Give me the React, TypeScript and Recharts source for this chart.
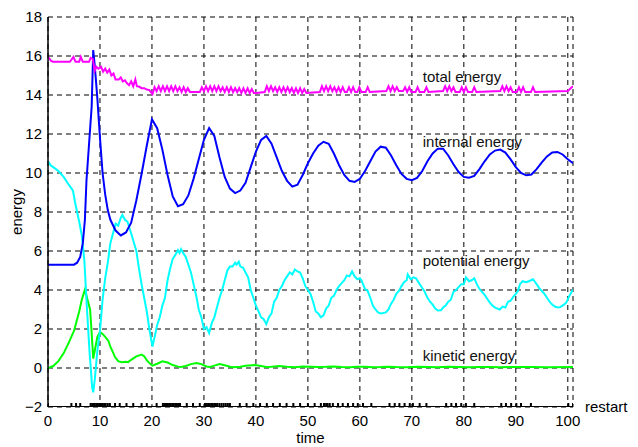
import React from "react";
import {
  ComposedChart,
  Line,
  Scatter,
  XAxis,
  YAxis,
  CartesianGrid,
  ReferenceDot,
  Label,
} from "recharts";

type Pt = [number, number];

const xTicks = [0, 10, 20, 30, 40, 50, 60, 70, 80, 90, 100];
const yTicks = [-2, 0, 2, 4, 6, 8, 10, 12, 14, 16, 18];

const totalEnergy: Pt[] = [
  [0, 15.95], [0.6, 15.75], [1, 15.7], [4.2, 15.7], [4.9, 15.95], [5.3, 15.7], [6.0, 15.7], [6.3, 15.95],
  [6.7, 15.7], [7.9, 15.7], [8.2, 15.9], [8.6, 15.85], [9.0, 15.25], [9.3, 15.45], [9.7, 15.35], [10.2, 15.45],
  [10.6, 15.2], [11, 15.35], [11.4, 15.15], [11.8, 15.3], [12.2, 15.0], [12.6, 15.1], [13, 14.8], [13.6, 14.8],
  [14, 14.9], [14.4, 14.7], [14.8, 14.75], [15.2, 14.6], [15.6, 14.5], [16, 14.7], [16.4, 14.45], [16.8, 14.8],
  [17.1, 14.45], [17.6, 14.42], [18, 14.35], [18.5, 14.35], [19, 14.28], [19.5, 14.25], [20.1, 14.05],
  [20.5, 14.4], [20.9, 14.2], [21.3, 14.45], [21.7, 14.2], [22.1, 14.45], [22.5, 14.2], [22.9, 14.45],
  [23.3, 14.2], [23.7, 14.45], [24.1, 14.2], [24.5, 14.45], [24.9, 14.2], [25.3, 14.4], [25.7, 14.15],
  [26.1, 14.4], [26.5, 14.15], [26.9, 14.35], [27.3, 14.15], [29.2, 14.15], [29.6, 14.4], [30, 14.2],
  [30.4, 14.45], [30.8, 14.2], [31.2, 14.45], [31.6, 14.2], [32, 14.45], [32.4, 14.2], [32.8, 14.45],
  [33.2, 14.2], [33.6, 14.4], [34, 14.15], [34.4, 14.4], [34.8, 14.15], [35.2, 14.4], [35.6, 14.15],
  [36, 14.35], [36.4, 14.15], [36.8, 14.35], [37.2, 14.1], [37.6, 14.35], [38, 14.1], [38.4, 14.35],
  [38.8, 14.1], [39.2, 14.3], [39.6, 14.1], [40.1, 14.1], [41.7, 14.15], [42.1, 14.45], [42.5, 14.2],
  [42.9, 14.45], [43.3, 14.2], [43.7, 14.4], [44.1, 14.15], [44.5, 14.4], [44.9, 14.15], [45.3, 14.4],
  [45.7, 14.15], [46.1, 14.4], [46.5, 14.15], [46.9, 14.35], [47.3, 14.1], [47.7, 14.35], [48.1, 14.1],
  [48.5, 14.35], [48.9, 14.1], [49.3, 14.3], [49.7, 14.1], [52.3, 14.15], [52.7, 14.45], [53.1, 14.2],
  [53.5, 14.45], [53.9, 14.2], [54.3, 14.45], [54.7, 14.2], [55.1, 14.4], [55.5, 14.15], [55.9, 14.4],
  [56.3, 14.15], [56.7, 14.4], [57.1, 14.15], [57.5, 14.15], [57.9, 14.4], [58.3, 14.15], [58.7, 14.4],
  [59.1, 14.15], [59.5, 14.15], [59.9, 14.4], [60.3, 14.15], [61.1, 14.15], [61.5, 14.4], [61.9, 14.15],
  [65.1, 14.2], [65.5, 14.45], [65.9, 14.2], [66.3, 14.45], [66.7, 14.2], [67.1, 14.4], [67.5, 14.2],
  [68.3, 14.2], [68.7, 14.4], [69.1, 14.15], [69.5, 14.4], [69.9, 14.15], [70.7, 14.15], [71.1, 14.4],
  [71.5, 14.15], [72.4, 14.15], [72.8, 14.4], [73.2, 14.15], [76, 14.2], [76.4, 14.45], [76.8, 14.2],
  [77.2, 14.45], [77.6, 14.2], [78, 14.4], [78.4, 14.15], [79.2, 14.15], [79.6, 14.4], [80, 14.15],
  [80.4, 14.4], [80.8, 14.15], [81.6, 14.15], [82, 14.4], [82.4, 14.15], [87, 14.2], [87.4, 14.45],
  [87.8, 14.2], [88.2, 14.45], [88.6, 14.2], [89, 14.4], [89.4, 14.15], [90.2, 14.15], [90.6, 14.4],
  [91, 14.15], [91.4, 14.4], [91.8, 14.15], [92.9, 14.15], [93.3, 14.4], [93.7, 14.15], [100, 14.2],
  [101, 14.45],
];

const internalEnergy: Pt[] = [
  [0, 5.3], [5, 5.3], [5.6, 5.4], [6.2, 5.7], [6.7, 6.4], [7.1, 7.6], [7.4, 9.6], [7.9, 11.5], [8.4, 13.4],
  [8.7, 16.3], [9.0, 15.5], [9.5, 13.8], [10, 11.8], [10.5, 10.0], [11, 8.9], [11.5, 8.1], [12, 7.6],
  [13, 7.05], [14, 6.8], [15, 6.95], [16, 7.45], [17, 8.6], [18, 9.95], [19, 11.4], [20, 12.75],
  [21, 12.3], [22, 11.2], [23, 9.9], [24, 8.8], [25, 8.3], [26, 8.4], [27, 8.85], [28, 9.7], [29, 10.7],
  [30, 11.7], [31, 12.3], [32, 11.9], [33, 10.8], [34, 9.8], [35, 9.2], [36, 8.97], [37, 9.1], [38, 9.5],
  [39, 10.3], [40, 11.1], [41, 11.7], [42, 11.9], [43, 11.5], [44, 10.8], [45, 10.1], [46, 9.6], [47, 9.3],
  [48, 9.4], [49, 9.9], [50, 10.5], [51, 11.0], [52, 11.4], [53, 11.6], [54, 11.5], [55, 11.0], [56, 10.4],
  [57, 9.9], [58, 9.6], [59, 9.54], [60, 9.7], [61, 10.1], [62, 10.6], [63, 11.1], [64, 11.35], [65, 11.3],
  [66, 10.9], [67, 10.4], [68, 9.95], [69, 9.7], [70, 9.63], [71, 9.75], [72, 10.1], [73, 10.6], [74, 11.0],
  [75, 11.25], [76, 11.25], [77, 10.9], [78, 10.45], [79, 10.05], [80, 9.8], [81, 9.76], [82, 9.85],
  [83, 10.2], [84, 10.6], [85, 10.95], [86, 11.15], [87, 11.2], [88, 11.05], [89, 10.7], [90, 10.3],
  [91, 10.0], [92, 9.88], [93, 9.92], [94, 10.2], [95, 10.55], [96, 10.85], [97, 11.05], [98, 11.08],
  [99, 10.95], [100, 10.7], [101, 10.5],
];

const potentialEnergy: Pt[] = [
  [0, 10.6], [0.5, 10.4], [1, 10.3], [2, 10.1], [3, 9.8], [4, 9.4], [4.8, 9.1], [5.2, 8.5], [5.6, 8.0],
  [6, 7.5], [6.5, 6.8], [7, 5.5], [7.5, 3.0], [8, 0.8], [8.5, -1.0], [8.7, -1.25], [9, -0.6], [9.5, 0.9],
  [10, 1.9], [10.5, 3.5], [11, 4.6], [11.5, 5.4], [12, 6.4], [12.5, 6.9], [13, 7.4], [13.5, 7.3], [14, 7.7],
  [14.3, 7.85], [14.8, 7.6], [15.3, 7.5], [16, 6.9], [17, 6.0], [17.5, 5.1], [18, 4.3], [18.5, 3.6],
  [19, 2.9], [19.5, 2.0], [20.1, 1.1], [20.6, 1.7], [21, 2.2], [21.5, 2.6], [22, 3.2], [22.5, 3.6],
  [23, 4.5], [23.5, 5.1], [24, 5.6], [24.5, 5.8], [25, 6.05], [25.3, 5.9], [25.6, 6.1], [26, 5.9],
  [26.5, 5.7], [27, 5.3], [27.5, 4.9], [28, 4.3], [28.6, 3.6], [29, 3.0], [29.5, 2.6], [30, 2.0],
  [30.5, 2.1], [31, 1.8], [31.5, 2.3], [32, 2.6], [32.5, 3.1], [33, 3.6], [33.5, 4.0], [34, 4.5],
  [34.5, 5.0], [35, 5.2], [35.5, 5.2], [36, 5.4], [36.3, 5.3], [36.7, 5.45], [37, 5.2], [37.5, 5.15],
  [38, 4.9], [38.5, 4.65], [39, 4.0], [39.5, 3.6], [40, 3.2], [40.5, 2.9], [41, 2.6], [41.5, 2.5],
  [42, 2.25], [42.5, 2.6], [43, 2.8], [43.5, 3.4], [44, 3.6], [44.5, 4.0], [45, 4.2], [45.5, 4.5],
  [46, 4.7], [46.5, 4.9], [47, 4.8], [47.5, 5.05], [48, 4.95], [48.5, 4.9], [49, 4.6], [49.5, 4.2],
  [50, 4.0], [50.5, 3.8], [51, 3.4], [51.5, 2.9], [52, 2.8], [52.5, 2.6], [53, 2.7], [53.5, 3.05],
  [54, 3.2], [54.5, 3.6], [55, 3.7], [55.5, 4.0], [56, 4.2], [56.5, 4.35], [57, 4.5], [57.5, 4.75],
  [58, 4.7], [58.5, 4.95], [59, 4.7], [59.5, 4.55], [60, 4.6], [60.3, 4.5], [61, 4.05], [61.5, 3.95],
  [62, 3.6], [62.5, 3.2], [63, 3.0], [63.5, 2.85], [64, 2.8], [64.5, 2.82], [65, 2.85], [65.5, 3.0],
  [66, 3.3], [66.5, 3.5], [67, 3.8], [67.5, 3.95], [68, 4.2], [68.5, 4.4], [69, 4.5], [69.2, 4.8],
  [69.8, 4.55], [70.3, 4.65], [70.8, 4.6], [71.5, 4.3], [72, 4.1], [72.4, 3.95], [73, 3.6], [73.5, 3.4],
  [74, 3.25], [74.5, 3.05], [75, 2.95], [75.6, 2.96], [76, 3.1], [76.5, 3.2], [77, 3.4], [77.5, 3.5],
  [78, 3.9], [78.5, 4.0], [79, 4.15], [79.5, 4.3], [80, 4.3], [80.4, 4.65], [81, 4.45], [81.5, 4.5],
  [82, 4.6], [82.5, 4.3], [83, 4.05], [83.5, 3.9], [84, 3.75], [84.5, 3.55], [85, 3.35], [85.5, 3.2],
  [86, 3.1], [86.9, 3.0], [87.5, 3.15], [88, 3.1], [88.5, 3.4], [89, 3.45], [89.5, 3.65], [90, 3.8],
  [90.4, 3.95], [90.8, 4.3], [91.3, 4.45], [92, 4.4], [92.5, 4.45], [93.3, 4.55], [94, 4.3], [94.5, 4.1],
  [95, 3.95], [95.5, 3.8], [96, 3.6], [96.5, 3.4], [97, 3.25], [97.5, 3.15], [98.1, 3.1], [98.5, 3.12],
  [99, 3.2], [99.7, 3.35], [100.3, 3.7], [101, 4.02],
];

const kineticEnergy: Pt[] = [
  [0, 0], [1, 0.1], [2, 0.35], [3, 0.75], [4, 1.3], [5, 1.9], [5.5, 2.4], [6, 2.9], [6.5, 3.5], [7.1, 4.02],
  [7.6, 3.5], [8.1, 3.0], [8.4, 1.8], [8.7, 0.48], [9, 0.9], [9.5, 1.6], [10, 1.85], [10.5, 1.75], [11, 1.6],
  [11.6, 1.4], [12, 1.1], [12.5, 0.8], [12.9, 0.56], [13.5, 0.35], [14.2, 0.3], [15, 0.32], [15.4, 0.3],
  [16, 0.42], [17, 0.6], [18, 0.69], [18.5, 0.6], [19, 0.4], [19.5, 0.25], [20.1, 0.12], [21, 0.22],
  [22, 0.34], [23, 0.28], [24, 0.15], [25, 0.07], [25.6, 0.05], [26.5, 0.1], [27.5, 0.2], [28.6, 0.25],
  [29.5, 0.2], [30.5, 0.08], [31.2, 0.05], [32, 0.12], [33, 0.2], [34, 0.14], [35, 0.06], [35.7, 0.04],
  [37, 0.06], [38, 0.12], [39.8, 0.15], [41, 0.1], [42, 0.05], [43, 0.06], [44.5, 0.1], [46, 0.06],
  [47.5, 0.04], [49, 0.08], [50.5, 0.07], [52, 0.05], [53.5, 0.06], [55, 0.08], [56.5, 0.05], [58, 0.04],
  [59.5, 0.07], [61, 0.06], [62.5, 0.04], [64, 0.05], [65.5, 0.07], [67, 0.05], [69, 0.04], [71, 0.06],
  [73, 0.05], [75, 0.04], [77, 0.06], [79, 0.05], [81, 0.04], [83, 0.05], [85, 0.05], [87, 0.04],
  [90, 0.05], [93, 0.05], [96, 0.04], [101, 0.05],
];

// times at which the solver restarted
const restartTimes = [
  0, 4.5, 5.4, 6.2, 8.2, 8.5, 8.8, 9.0, 9.3, 9.6, 9.9, 10.2, 10.5, 10.8, 11.1, 11.5, 11.9, 12.9, 13.8,
  15.1, 16.4, 18, 19, 20.9, 22.1, 22.4, 22.7, 23.0, 23.3, 23.6, 23.9, 24.2, 24.5, 24.8, 25.1, 25.4, 26.7,
  27.9, 29.2, 30.2, 30.5, 30.8, 31.1, 31.4, 31.7, 32.0, 32.3, 32.6, 33, 33.4, 33.8, 34.2, 34.6, 35, 36.9,
  38.2, 39.5, 40.8, 42.1, 43.3, 44.6, 45.9, 47.2, 48.5, 50, 51.3, 52.5, 53.1, 53.5, 53.8, 54.2, 54.8,
  55.8, 56.7, 57.7, 58.7, 59.6, 60.6, 62.2, 65.7, 66.7, 67.6, 68.6, 69.6, 70.2, 71.5, 72.8, 76.6, 77.6,
  78.5, 79.5, 80.4, 82, 87.2, 88.1, 89.1, 90.1, 91, 92.9, 100.1, 101,
];
const restartLevel = -2;

const toRows = (pts: Pt[]) => pts.map(([x, y]) => ({ x, y }));
const restartRows = restartTimes.map((x) => ({ x, y: restartLevel }));
const restartSpan = [
  { x: 0, y: restartLevel },
  { x: 101, y: restartLevel },
];

const FONT = "'Liberation Sans', Arial, Helvetica, sans-serif";
const tickStyle = { fontSize: 15, fill: "#000", fontFamily: FONT };

const PlusMark = (props: any) => {
  const { cx, cy } = props;
  if (cx == null || cy == null) return null;
  const s = 4;
  return (
    <path
      d={`M${cx - s},${cy}H${cx + s}M${cx},${cy - s}V${cy + s}`}
      stroke="#000"
      strokeWidth={2}
      fill="none"
    />
  );
};

const EnergyAxisLabel = (props: any) => {
  const vb = props.viewBox || {};
  const cx = (vb.x ?? 0) + 16;
  const cy = (vb.y ?? 0) + (vb.height ?? 0) / 2;
  return (
    <text
      x={cx}
      y={cy}
      transform={`rotate(-90, ${cx}, ${cy})`}
      textAnchor="middle"
      dominantBaseline="central"
      fontSize={15}
      fontFamily={FONT}
      fill="#000"
    >
      energy
    </text>
  );
};

const seriesLabel = (value: string) => ({
  value,
  position: "right" as const,
  offset: 0,
  fontSize: 15,
  fontFamily: FONT,
  fill: "#111",
});

export default function App() {
  return (
    <div style={{ position: "absolute", left: 0, top: 0, background: "#fff" }}>
      <ComposedChart
        width={638}
        height={447}
        margin={{ top: 17, right: 65, bottom: 0, left: 0 }}
      >
        <CartesianGrid
          stroke="#000"
          strokeDasharray="5 4"
          strokeWidth={1}
        />
        <XAxis
          type="number"
          dataKey="x"
          domain={[0, 101]}
          ticks={xTicks}
          allowDataOverflow
          tickLine={false}
          axisLine={false}
          height={40}
          tick={tickStyle}
          tickMargin={2}
        >
          <Label
            value="time"
            position="insideBottom"
            offset={4}
            style={{ fontSize: 15, fontFamily: FONT, fill: "#000" }}
          />
        </XAxis>
        <YAxis
          type="number"
          domain={[-2, 18]}
          ticks={yTicks}
          allowDataOverflow
          width={48}
          tickLine={false}
          axisLine={{ stroke: "#000", strokeWidth: 1.5 }}
          tick={tickStyle}
          tickMargin={0}
          tickFormatter={(v: number) => String(v).replace("-", "\u2212")}
          label={<EnergyAxisLabel />}
        />

        <Line
          data={restartSpan}
          dataKey="y"
          stroke="#000"
          strokeWidth={2}
          dot={false}
          isAnimationActive={false}
        />
        <Scatter
          data={restartRows}
          dataKey="y"
          shape={<PlusMark />}
          isAnimationActive={false}
        />

        <Line
          data={toRows(kineticEnergy)}
          dataKey="y"
          stroke="#00ff00"
          strokeWidth={2}
          dot={false}
          isAnimationActive={false}
        />
        <Line
          data={toRows(potentialEnergy)}
          dataKey="y"
          stroke="#00ffff"
          strokeWidth={2}
          dot={false}
          isAnimationActive={false}
        />
        <Line
          data={toRows(internalEnergy)}
          dataKey="y"
          stroke="#0000ff"
          strokeWidth={2}
          dot={false}
          isAnimationActive={false}
        />
        <Line
          data={toRows(totalEnergy)}
          dataKey="y"
          stroke="#ff00ff"
          strokeWidth={2}
          dot={false}
          isAnimationActive={false}
        />

        <ReferenceDot x={72.1} y={14.95} r={0} stroke="none" fill="none" label={seriesLabel("total energy")} />
        <ReferenceDot x={72.1} y={11.59} r={0} stroke="none" fill="none" label={seriesLabel("internal energy")} />
        <ReferenceDot x={72.1} y={5.49} r={0} stroke="none" fill="none" label={seriesLabel("potential energy")} />
        <ReferenceDot x={72.1} y={0.62} r={0} stroke="none" fill="none" label={seriesLabel("kinetic energy")} />
        <ReferenceDot
          x={101}
          y={restartLevel}
          r={0}
          stroke="none"
          fill="none"
          label={{ ...seriesLabel("restart"), offset: 12, fill: "#000" }}
        />
      </ComposedChart>
    </div>
  );
}
